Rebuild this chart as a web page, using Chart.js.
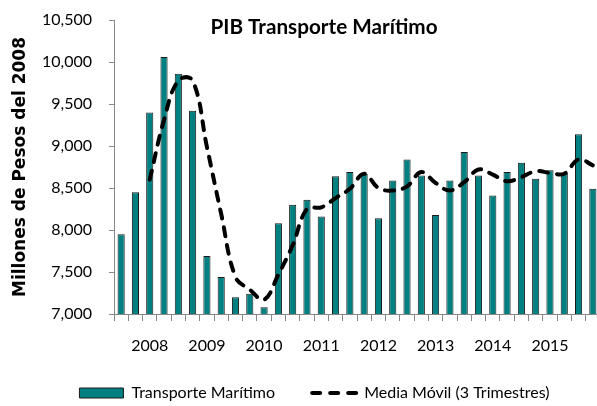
<!DOCTYPE html>
<html lang="es">
<head>
  <meta charset="UTF-8">
  <title>PIB Transporte Marítimo</title>
  <script src="https://cdn.jsdelivr.net/npm/chart.js"></script>
  <style>
    html, body {
      margin: 0;
      padding: 0;
      overflow: hidden;
      background: #fff;
    }
    canvas {
      display: block;
    }
  </style>
</head>
<body>
  <canvas id="pibChart" width="629" height="411"></canvas>

  <script>
    // Trimestres (2007 T3 - 2015 T4)
    const quarters = [
      '2007T3', '2007T4',
      '2008T1', '2008T2', '2008T3', '2008T4',
      '2009T1', '2009T2', '2009T3', '2009T4',
      '2010T1', '2010T2', '2010T3', '2010T4',
      '2011T1', '2011T2', '2011T3', '2011T4',
      '2012T1', '2012T2', '2012T3', '2012T4',
      '2013T1', '2013T2', '2013T3', '2013T4',
      '2014T1', '2014T2', '2014T3', '2014T4',
      '2015T1', '2015T2', '2015T3', '2015T4'
    ];

    // PIB transporte maritimo (millones de pesos del 2008)
    const transporte = [
      7950, 8450, 9400, 10060, 9860, 9420, 7690, 7440, 7200, 7240,
      7080, 8080, 8300, 8360, 8160, 8640, 8690, 8670, 8140, 8590,
      8840, 8650, 8180, 8590, 8930, 8650, 8410, 8690, 8800, 8610,
      8710, 8680, 9140, 8490
    ];

    // Media movil de 3 trimestres
    const mediaMovil = [
      null, null, 8600, 9310, 9780, 9780, 8990, 8190, 7440, 7290,
      7170, 7470, 7820, 8250, 8270, 8380, 8490, 8670, 8500, 8470,
      8520, 8690, 8560, 8470, 8570, 8720, 8660, 8580, 8630, 8700,
      8680, 8670, 8840, 8770
    ];

    // y axis ticks
    const yTicks = [7000, 7500, 8000, 8500, 9000, 9500, 10000, 10500];

    Chart.defaults.color = '#000';
    Chart.defaults.font.family = 'Lato, "Open Sans", sans-serif';

    // chart title drawn inside the plot area, like the original
    const titlePlugin = {
      id: 'innerTitle',
      afterDraw(chart) {
        const ctx = chart.ctx;
        ctx.save();
        ctx.font = 'bold 20.7px Lato, sans-serif';
        ctx.fillStyle = '#000';
        ctx.textAlign = 'center';
        ctx.textBaseline = 'middle';
        ctx.fillText('PIB Transporte Marítimo', 324, 27);
        ctx.restore();
      }
    };

    const ctx = document.getElementById('pibChart').getContext('2d');
    const chart = new Chart(ctx, {
      data: {
        labels: quarters,
        datasets: [
          {
            type: 'bar',
            label: 'Transporte Marítimo',
            data: transporte,
            backgroundColor: '#008080',
            borderColor: '#1a1a1a',
            borderWidth: 1,
            barPercentage: 0.5,
            categoryPercentage: 1.0,
            order: 2
          },
          {
            type: 'line',
            label: 'Media Móvil (3 Trimestres)',
            data: mediaMovil,
            borderColor: '#000',
            backgroundColor: '#000',
            borderWidth: 4,
            borderDash: [9, 9],
            borderCapStyle: 'round',
            tension: 0.4,
            pointRadius: 0,
            fill: false,
            order: 1
          }
        ]
      },
      options: {
        responsive: false,
        animation: false,
        devicePixelRatio: 1,
        layout: {
          padding: { left: 29, right: 29, top: 20, bottom: 0 }
        },
        scales: {
          x: {
            offset: true,
            grid: {
              offset: true,
              drawOnChartArea: false,
              tickLength: 7,
              color: '#888'
            },
            border: { color: '#888', width: 1 },
            ticks: {
              autoSkip: false,
              maxRotation: 0,
              padding: 15,
              font: { size: 16 },
              callback: function (value) {
                const q = quarters[value];
                return q.endsWith('T1') ? q.slice(0, 4) : '';
              }
            },
            afterFit: function (scale) {
              scale.height = 46;
            }
          },
          y: {
            min: yTicks[0],
            max: yTicks[yTicks.length - 1],
            afterBuildTicks: function (scale) {
              scale.ticks = yTicks.map(v => ({ value: v }));
            },
            grid: {
              drawOnChartArea: false,
              tickLength: 5,
              color: '#888'
            },
            border: { color: '#888', width: 1 },
            ticks: {
              padding: 17,
              font: { size: 16 },
              callback: function (value) {
                return value.toLocaleString('en-US');
              }
            },
            title: {
              display: true,
              text: 'Millones de Pesos del 2008',
              padding: { top: -19, bottom: 0 },
              font: { family: '"DejaVu Sans", sans-serif', size: 17, weight: 'bold' }
            },
            afterFit: function (scale) {
              scale.width = 85;
              scale.paddingTop = 0;
              scale.paddingBottom = 0;
            }
          }
        },
        plugins: {
          title: { display: false },
          tooltip: { enabled: false },
          legend: {
            position: 'bottom',
            labels: {
              usePointStyle: true,
              pointStyleWidth: 44,
              boxHeight: 10,
              padding: 25,
              font: { size: 16 },
              generateLabels: function (chart) {
                const items = Chart.defaults.plugins.legend.labels.generateLabels(chart);
                items.sort((a, b) => a.datasetIndex - b.datasetIndex);
                items.forEach(item => {
                  if (item.datasetIndex === 0) {
                    item.pointStyle = 'rect';
                    item.text = item.text + '\u2002 ';
                  } else {
                    item.pointStyle = 'line';
                    item.lineDash = [8, 10];
                    item.lineCap = 'round';
                  }
                });
                return items;
              }
            }
          }
        }
      },
      plugins: [titlePlugin]
    });
  </script>
</body>
</html>
